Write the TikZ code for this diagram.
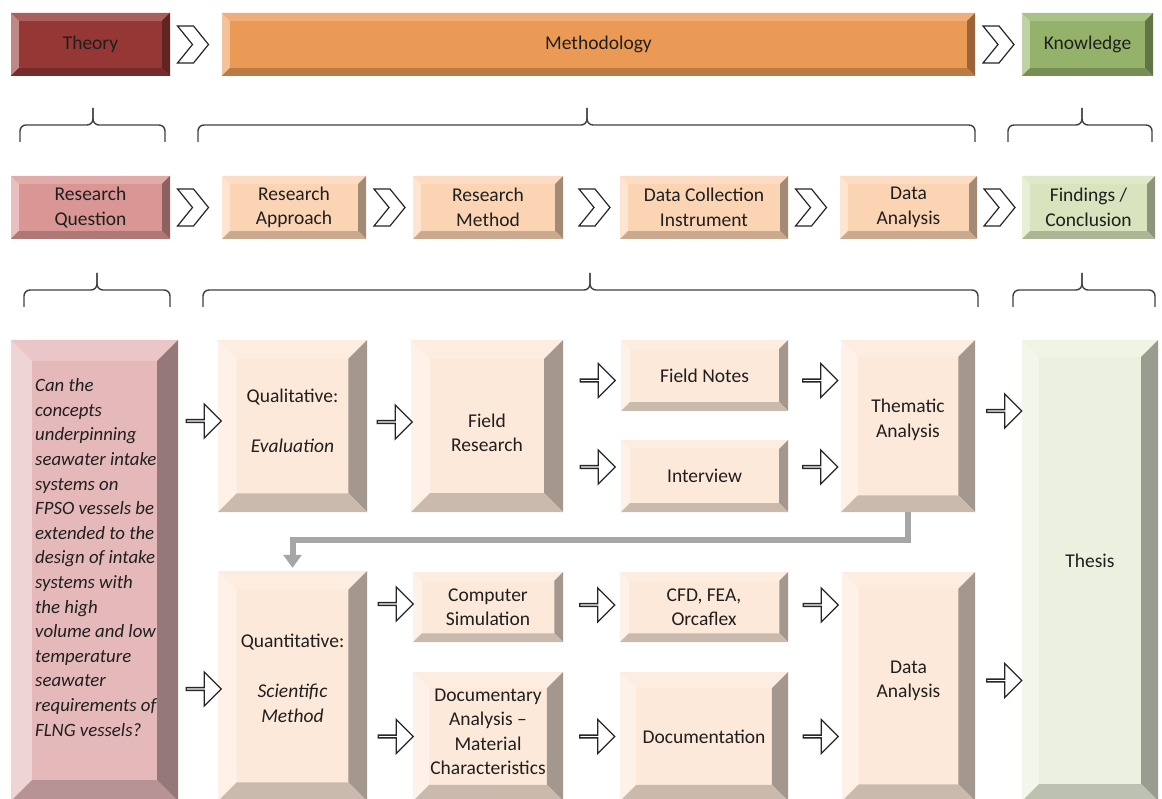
\documentclass[tikz,border=0pt]{standalone}
\usepackage{fontspec}
\setmainfont{Carlito}
\usetikzlibrary{shapes.arrows,arrows.meta,calc}

\definecolor{theorycol}{HTML}{943735}
\definecolor{methodcol}{HTML}{EB9A55}
\definecolor{knowcol}{HTML}{95B26A}
\definecolor{questcol}{HTML}{D99694}
\definecolor{stepcol}{HTML}{FBD4B4}
\definecolor{findcol}{HTML}{D7E4BD}
\definecolor{rqcol}{HTML}{E5B8BA}
\definecolor{workcol}{HTML}{FDE9D9}
\definecolor{thesiscol}{HTML}{EBF1DE}
\definecolor{flowgray}{HTML}{A6A6A6}

\tikzset{
  boxtext/.style={text=black!88, align=center, inner sep=0pt,
    font=\fontsize{19.5}{24.5}\selectfont},
  bevelbox/.style={fill=#1, boxtext,
    path picture={
      \pgfpointdiff{\pgfpointanchor{path picture bounding box}{south west}}
                   {\pgfpointanchor{path picture bounding box}{north east}}
      \pgfgetlastxy{\bwd}{\bht}
      \pgfmathsetlengthmacro{\bv}{0.125*min(\bwd,\bht)}
      \coordinate (bnw) at (path picture bounding box.north west);
      \coordinate (bne) at (path picture bounding box.north east);
      \coordinate (bsw) at (path picture bounding box.south west);
      \coordinate (bse) at (path picture bounding box.south east);
      % top and left facets catch the light, right and bottom are shaded
      \fill[#1!80!white] (bnw) -- (bne) -- ([shift={(-\bv,-\bv)}]bne) -- ([shift={(\bv,-\bv)}]bnw) -- cycle;
      \fill[#1!60!white] (bnw) -- ([shift={(\bv,-\bv)}]bnw) -- ([shift={(\bv,\bv)}]bsw) -- (bsw) -- cycle;
      \fill[#1!65!black] (bne) -- (bse) -- ([shift={(-\bv,\bv)}]bse) -- ([shift={(-\bv,-\bv)}]bne) -- cycle;
      \fill[#1!80!black] (bsw) -- (bse) -- ([shift={(-\bv,\bv)}]bse) -- ([shift={(\bv,\bv)}]bsw) -- cycle;
    }},
  size/.style 2 args={minimum width=#1pt, minimum height=#2pt},
  blockarr/.style={single arrow, draw=black!85, fill=white, line width=1.3pt,
    minimum height=35pt, minimum width=34pt, single arrow head extend=7.5pt,
    inner sep=0pt, xshift=5pt},
  chevron/.pic={
    \draw[black!85, fill=white, line width=1.2pt]
      (-15.5,-18.5) -- (0.5,-18.5) -- (15.5,0) -- (0.5,18.5) -- (-15.5,18.5) -- (-0.5,0) -- cycle;
  },
  bracket/.style={draw=black!75, line width=1.4pt, rounded corners=6pt},
  flowline/.style={draw=flowgray, line width=6pt, -{Triangle[width=18pt,length=13pt]}},
}

% curly bracket: left end, middle, right end, height of the bar
\newcommand\bracketat[4]{%
  \draw[bracket] (#1,#4+17) -- (#1,#4) -- (#2,#4) -- (#2,#4-17);
  \draw[bracket] (#2,#4-17) -- (#2,#4) -- (#3,#4) -- (#3,#4+17);
}

\begin{document}
\begin{tikzpicture}[x=1pt,y=-1pt]
  \useasboundingbox (0,0) rectangle (1162,799);
  \fill[white] (0,0) rectangle (1162,799);

  % top band
  \node[bevelbox=theorycol, size={159}{63}] (theory) at (90.5,44.5) {Theory};
  \node[bevelbox=methodcol, size={753}{63}] (method) at (598.5,44.5) {Methodology};
  \node[bevelbox=knowcol, size={131}{63}] (know) at (1087.5,44.5) {Knowledge};
  \pic at ($(theory.east)!.5!(method.west)+(-3,0)$) {chevron};
  \pic at ($(method.east)!.5!(know.west)$) {chevron};

  \bracketat{20}{93}{165}{125}
  \bracketat{198}{587}{975}{125}
  \bracketat{1008}{1082}{1152}{125}

  % second band
  \node[bevelbox=questcol, size={159}{63}] (resq) at (90.5,207.5) {Research\\Question};
  \node[bevelbox=stepcol, size={144}{63}] (approach) at (294,207.5) {Research\\Approach};
  \node[bevelbox=stepcol, size={150}{63}] (resmethod) at (488,207.5) {Research\\Method};
  \node[bevelbox=stepcol, size={168}{63}] (instrument) at (704,207.5) {Data Collection\\Instrument};
  \node[bevelbox=stepcol, size={137}{63}] (analysis) at (908.5,207.5) {Data\\Analysis};
  \node[bevelbox=findcol, size={133}{63}] (findings) at (1088.5,207.5) {Findings /\\Conclusion};
  \pic at ($(resq.east)!.5!(approach.west)+(-3,0)$) {chevron};
  \pic at ($(approach.east)!.5!(resmethod.west)$) {chevron};
  \pic at ($(resmethod.east)!.5!(instrument.west)+(3,0)$) {chevron};
  \pic at ($(instrument.east)!.5!(analysis.west)+(-3,0)$) {chevron};
  \pic at ($(analysis.east)!.5!(findings.west)$) {chevron};

  \bracketat{24}{97}{170}{290}
  \bracketat{203}{590}{978}{290}
  \bracketat{1013}{1082}{1155}{290}

  % detail band
  \node[bevelbox=rqcol, size={167}{461}] (question) at (94.5,570.5) {};
  \node[align=left, font=\fontsize{18.8}{24.6}\selectfont\itshape, text=black!88,
    anchor=west, inner sep=0pt] (question-label) at (35,557.5)
    {Can the\\concepts\\underpinning\\seawater intake\\systems on\\FPSO vessels be\\
     extended to the\\design of intake\\systems with\\the high\\volume and low\\
     temperature\\seawater\\requirements of\\FLNG vessels?};

  \node[bevelbox=workcol, size={149}{172}] (qual) at (292.5,426) {};
  \node[boxtext] (qual-label) at ([yshift=5pt]qual.center) {Qualitative:\\[26pt]\textit{Evaluation}};
  \node[bevelbox=workcol, size={152}{172}] (fieldres) at (487,426) {};
  \node[boxtext] (fieldres-label) at ([yshift=-7pt]fieldres.center) {Field\\Research};
  \node[bevelbox=workcol, size={167}{71}] (notes) at (704.5,375.5) {Field Notes};
  \node[bevelbox=workcol, size={167}{72}] (interview) at (704.5,476) {Interview};
  \node[bevelbox=workcol, size={134}{172}] (thematic) at (908,426) {};
  \node[boxtext] (thematic-label) at ([yshift=6pt]thematic.center) {Thematic\\Analysis};
  \node[bevelbox=thesiscol, size={136}{461}] (thesis) at (1090,570.5) {};
  \node[boxtext] (thesis-label) at ([yshift=10pt]thesis.center) {Thesis};

  \node[bevelbox=workcol, size={149}{230}] (quant) at (292.5,686) {};
  \node[boxtext] (quant-label) at ([yshift=8pt]quant.center) {Quantitative:\\[26pt]\textit{Scientific}\\\textit{Method}};
  \node[bevelbox=workcol, size={150}{70}] (compsim) at (488,607) {Computer\\Simulation};
  \node[bevelbox=workcol, size={150}{129}] (docanalysis) at (488,736.5) {};
  \node[boxtext] (docanalysis-label) at ([yshift=4.5pt]docanalysis.center) {Documentary\\Analysis --\\Material\\Characteristics};
  \node[bevelbox=workcol, size={168}{70}] (cfd) at (704,607) {CFD, FEA,\\Orcaflex};
  \node[bevelbox=workcol, size={168}{129}] (documentation) at (704,736.5) {Documentation};
  \node[bevelbox=workcol, size={133}{229}] (dataanalysis) at (908.5,686.5) {};
  \node[boxtext] (dataanalysis-label) at ([yshift=5.5pt]dataanalysis.center) {Data\\Analysis};

  % block arrows between the boxes
  \node[blockarr, yshift=5pt] (a1) at ($(question.east |- qual.west)!.5!(qual.west)$) {};
  \node[blockarr, yshift=4pt] (a2) at ($(qual.east)!.5!(fieldres.west)$) {};
  \node[blockarr, yshift=-5pt] (a3) at ($(fieldres.east |- notes.west)!.5!(notes.west)$) {};
  \node[blockarr, yshift=9pt] (a4) at ($(fieldres.east |- interview.west)!.5!(interview.west)$) {};
  \node[blockarr, yshift=-5pt] (a5) at ($(notes.east)!.5!(notes.east -| thematic.west)$) {};
  \node[blockarr, yshift=9pt] (a6) at ($(interview.east)!.5!(interview.east -| thematic.west)$) {};
  \node[blockarr, yshift=15pt] (a7) at ($(thematic.east)!.5!(thematic.east -| thesis.west)$) {};

  \node[blockarr, yshift=-3pt] (b1) at ($(question.east |- quant.west)!.5!(quant.west)$) {};
  \node[blockarr, yshift=3pt] (b2) at ($(quant.east |- compsim.west)!.5!(compsim.west)$) {};
  \node[blockarr] (b3) at ($(quant.east |- docanalysis.west)!.5!(docanalysis.west)$) {};
  \node[blockarr, yshift=2pt] (b4) at ($(compsim.east)!.5!(cfd.west)$) {};
  \node[blockarr] (b5) at ($(docanalysis.east)!.5!(documentation.west)$) {};
  \node[blockarr, yshift=2pt] (b6) at ($(cfd.east)!.5!(cfd.east -| dataanalysis.west)$) {};
  \node[blockarr] (b7) at ($(documentation.east)!.5!(documentation.east -| dataanalysis.west)$) {};
  \node[blockarr, yshift=6pt] (b8) at ($(dataanalysis.east)!.5!(dataanalysis.east -| thesis.west)$) {};

  % feedback from the qualitative branch
  \draw[flowline, shorten >=3pt] (thematic.south) -- ++(0,28) -| (quant.north);
\end{tikzpicture}
\end{document}
